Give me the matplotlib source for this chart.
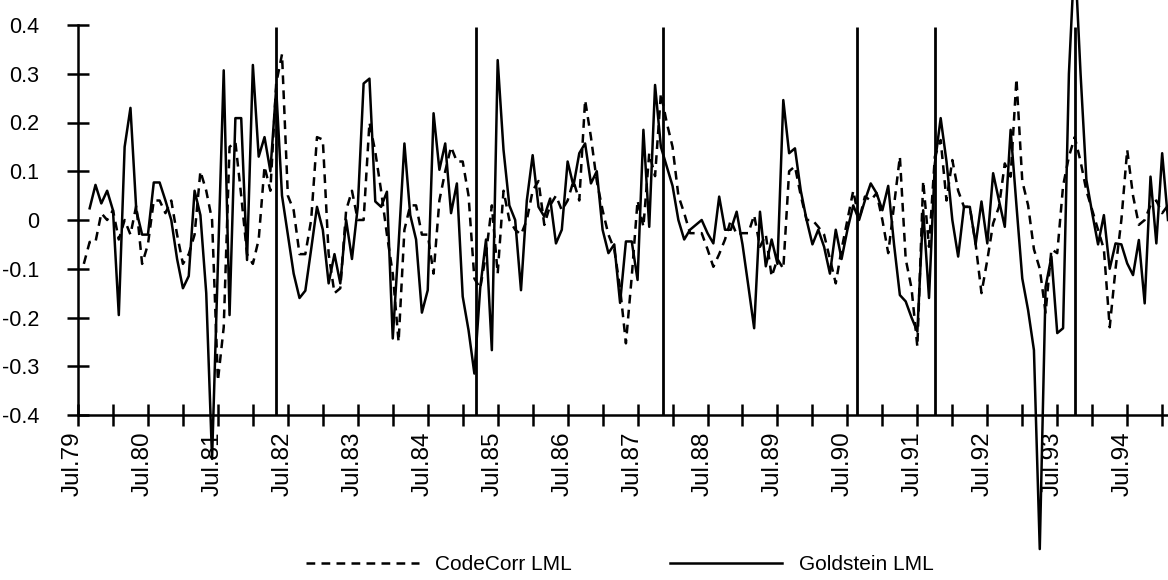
import numpy as np
import matplotlib.pyplot as plt
import matplotlib.transforms as mtransforms

# monthly series, month 0 = Jul.79
months = np.arange(1, 188)

codecorr = [
    -0.09, -0.045, -0.045, 0.014, 0.0, 0.02, -0.04, 0.0, -0.03, 0.03,
    -0.09, -0.05, 0.04, 0.04, 0.014, 0.04, -0.03, -0.09, -0.07, -0.03,
    0.10, 0.06, 0.0, -0.33, -0.22, 0.15, 0.16, 0.05, -0.07, -0.09,
    -0.04, 0.11, 0.06, 0.28, 0.34, 0.05, 0.02, -0.07, -0.07, 0.0,
    0.17, 0.165, -0.07, -0.15, -0.14, 0.02, 0.06, 0.0, 0.0, 0.2,
    0.14, 0.06, -0.03, -0.11, -0.25, -0.02, 0.03, 0.03, -0.03, -0.03,
    -0.11, 0.04, 0.10, 0.15, 0.12, 0.12, 0.05, -0.12, -0.14, -0.07,
    0.03, -0.11, 0.06, 0.0, -0.02, -0.03, 0.0, 0.06, 0.08, -0.01,
    0.03, 0.05, 0.02, 0.04, 0.08, 0.04, 0.246, 0.17, 0.08, 0.02,
    -0.03, -0.06, -0.14, -0.253, -0.116, 0.04, -0.014, 0.137, 0.09, 0.26,
    0.2, 0.15, 0.05, 0.014, -0.027, -0.027, -0.027, -0.06, -0.096, -0.07,
    -0.04, 0.0, -0.03, -0.027, -0.027, 0.01, -0.055, -0.03, -0.116, -0.08,
    -0.1, 0.1, 0.11, 0.05, 0.0, 0.0, -0.014, -0.03, -0.08, -0.13,
    -0.06, 0.0, 0.06, 0.0, 0.048, 0.04, 0.055, 0.0, -0.068, 0.03,
    0.13, -0.08, -0.14, -0.26, 0.08, -0.055, 0.13, 0.164, 0.04, 0.123,
    0.06, 0.027, 0.027, -0.05, -0.15, -0.082, -0.007, 0.027, 0.116, 0.089,
    0.29, 0.08, 0.03, -0.06, -0.1, -0.19, -0.06, -0.068, 0.07, 0.13,
    0.17, 0.12, 0.06, 0.02, -0.02, -0.06, -0.22, -0.1, 0.0, 0.144,
    0.05, -0.01, 0.0, 0.03, 0.04, 0.014, 0.03,
]

goldstein = [
    np.nan, 0.024, 0.072, 0.034, 0.06, 0.02, -0.195, 0.15, 0.23, 0.02,
    -0.03, -0.03, 0.077, 0.077, 0.04, 0.0, -0.08, -0.14, -0.115, 0.06,
    0.01, -0.15, -0.49, -0.09, 0.307, -0.195, 0.209, 0.209, -0.082, 0.318,
    0.13, 0.17, 0.10, 0.27, 0.05, -0.03, -0.11, -0.16, -0.145, -0.06,
    0.027, -0.02, -0.13, -0.07, -0.13, 0.0, -0.08, 0.027, 0.28, 0.29,
    0.038, 0.027, 0.058, -0.243, -0.05, 0.157, 0.01, -0.04, -0.19, -0.144,
    0.219, 0.103, 0.157, 0.014, 0.075, -0.157, -0.226, -0.315, -0.14, -0.04,
    -0.267, 0.328, 0.144, 0.03, 0.0, -0.144, 0.04, 0.133, 0.027, 0.007,
    0.044, -0.048, -0.02, 0.12, 0.07, 0.137, 0.157, 0.075, 0.10, -0.02,
    -0.068, -0.05, -0.17, -0.044, -0.044, -0.123, 0.185, -0.014, 0.277, 0.15,
    0.11, 0.07, 0.0, -0.04, -0.02, -0.01, 0.0, -0.027, -0.048, 0.048,
    -0.02, -0.02, 0.017, -0.05, -0.135, -0.222, 0.017, -0.095, -0.04, -0.09,
    0.246, 0.137, 0.147, 0.06, 0.0, -0.05, -0.02, -0.055, -0.11, -0.02,
    -0.08, -0.02, 0.03, 0.0, 0.04, 0.075, 0.055, 0.02, 0.07, -0.05,
    -0.154, -0.167, -0.2, -0.229, 0.02, -0.16, 0.116, 0.209, 0.12, 0.0,
    -0.075, 0.027, 0.027, -0.05, 0.038, -0.048, 0.096, 0.04, -0.014, 0.185,
    0.03, -0.12, -0.185, -0.267, -0.675, -0.137, -0.075, -0.232, -0.222, 0.3,
    0.55, 0.3, 0.082, 0.014, -0.05, 0.01, -0.1, -0.048, -0.05, -0.089,
    -0.113, -0.041, -0.171, 0.089, -0.048, 0.137, 0.0,
]

# dates marked with vertical bars (months since Jul.79)
events = [34, 68.2, 100.3, 133.7, 147, 171]

year_labels = ['Jul.%02d' % y for y in range(79, 95)]
y_ticks = [0.4, 0.3, 0.2, 0.1, 0, -0.1, -0.2, -0.3, -0.4]
y_labels = ['0.4', '0.3', '0.2', '0.1', '0', '-0.1', '-0.2', '-0.3', '-0.4']

plt.rcParams['font.family'] = 'Liberation Sans'

fig = plt.figure(figsize=(11.68, 5.8), dpi=100)
ax = fig.add_axes([78 / 1168, 1 - 415 / 580, 1 - 78 / 1168, 390 / 580])

ax.plot(months, codecorr, color='k', lw=1.8, dashes=(3.5, 2.5),
        label='CodeCorr LML', clip_on=False)
ax.plot(months, goldstein, color='k', lw=1.8,
        label='Goldstein LML', clip_on=False)
ax.vlines(events, -0.4, 0.395, colors='k', lw=2)

ax.set_xlim(0, 187)
ax.set_ylim(-0.4, 0.4)

ax.set_xticks(np.arange(0, 12 * len(year_labels), 12))
ax.set_xticklabels(year_labels, rotation=90, fontsize=17.5)
ax.set_xticks(np.arange(6, 188, 12), minor=True)
ax.set_yticks(y_ticks)
ax.set_yticklabels(y_labels, fontsize=15.5)

for s in ['top', 'right']:
    ax.spines[s].set_visible(False)
for s in ['left', 'bottom']:
    ax.spines[s].set_linewidth(1.8)

ax.tick_params(which='both', direction='inout', length=16, width=1.8,
               color='k')
ax.tick_params(axis='x', pad=4)
ax.tick_params(axis='y', pad=20)

# year labels sit slightly left of their tick
shift = mtransforms.ScaledTranslation(-5 / 100, 0, fig.dpi_scale_trans)
for lab in ax.get_xticklabels():
    lab.set_transform(lab.get_transform() + shift)

fig.legend(loc='center', bbox_to_anchor=(620 / 1168, 1 - 565 / 580), ncol=2,
           frameon=False, fontsize=15, handlelength=5.4, columnspacing=4.7,
           handletextpad=0.8)

fig.savefig('out.png', dpi=100)
